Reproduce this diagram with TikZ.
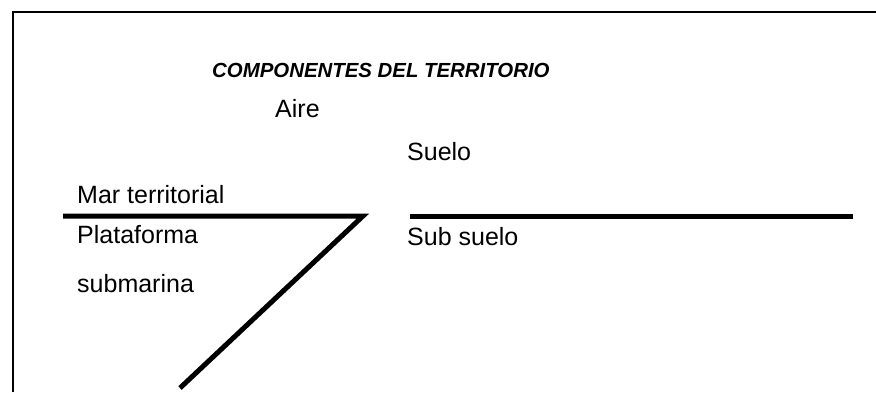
\documentclass[tikz,border=0pt]{standalone}
\usepackage{fontspec}
\setmainfont{Liberation Sans}
\begin{document}
\begin{tikzpicture}[x=1pt,y=-1pt,
  lbl/.style={anchor=base west, inner sep=0pt, font=\fontsize{25}{30}\selectfont},
  ttl/.style={anchor=base west, inner sep=0pt, font=\fontsize{20.4}{24}\selectfont\bfseries\itshape},
  frame/.style={line width=2pt},
  bar/.style={line width=5pt, line join=miter}]
\useasboundingbox (0,0) rectangle (876,392);
\coordinate (fb) at (13,392);
\coordinate (fc) at (13,12);
\coordinate (fr) at (876,12);
\draw[frame] (fb) -- (fc) -- (fr);
\node[ttl] (title) at (212,77) {COMPONENTES DEL TERRITORIO};
\node[lbl] (aire) at (275,117) {Aire};
\node[lbl] (suelo) at (407,160) {Suelo};
\node[lbl] (mar) at (77,203) {Mar territorial};
\node[lbl] (plat) at (77,243) {Plataforma};
\node[lbl] (sub) at (77,292) {submarina};
\node[lbl] (subsuelo) at (407,245) {Sub suelo};
\coordinate (la) at (63,216);
\coordinate (lb) at (363,216);
\coordinate (lc) at (180,388);
\draw[bar] (la) -- (lb) -- (lc);
\coordinate (ra) at (410,216);
\coordinate (rb) at (853,216);
\draw[bar] (ra) -- (rb);
\end{tikzpicture}
\end{document}
